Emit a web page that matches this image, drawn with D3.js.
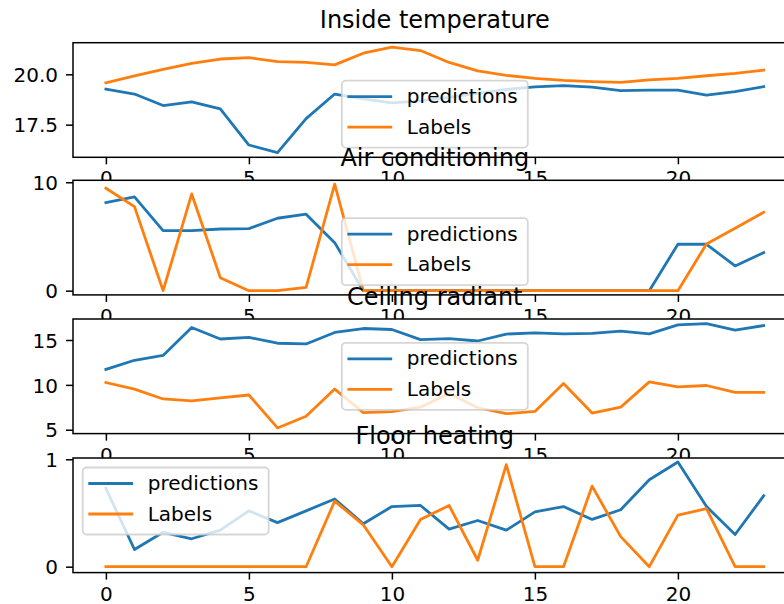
<!DOCTYPE html>
<html><head><meta charset="utf-8">
<script src="https://cdn.jsdelivr.net/npm/d3@7"></script>
<style>
body{margin:0;background:#fff}
svg{display:block;overflow:hidden}
text{font-family:"DejaVu Sans",sans-serif}
</style>
</head><body>
<svg id="c" width="784" height="604"></svg>
<script>
// ---------- data ----------
const hours = [0,1,2,3,4,5,6,7,8,9,10,11,12,13,14,15,16,17,18,19,20,21,22,23];
const xTicks = [0,5,10,15,20];
const seriesNames = ["predictions","Labels"];
const titles = ["Inside temperature","Air conditioning","Ceiling radiant","Floor heating"];

const tempPred  = [19.27,19.02,18.45,18.63,18.28,16.49,16.11,17.80,19.02,18.78,18.58,18.68,18.85,19.05,19.25,19.38,19.44,19.36,19.19,19.22,19.22,18.97,19.14,19.39];
const tempLabel = [19.58,19.92,20.25,20.54,20.76,20.83,20.63,20.59,20.47,21.05,21.35,21.18,20.59,20.17,19.95,19.80,19.70,19.64,19.60,19.72,19.80,19.93,20.05,20.21];

const acPred  = [8.12,8.65,5.54,5.54,5.69,5.72,6.68,7.05,4.43,0,0,0,0,0,0,0,0,0,0,0,4.28,4.28,2.28,3.51];
const acLabel = [9.45,7.75,0,8.92,1.2,0,0,0.3,9.82,0,0,0,0,0,0,0,0,0,0,0,0,4.31,5.75,7.23];

const ceilPred  = [11.72,12.74,13.28,16.39,15.11,15.29,14.64,14.56,15.84,16.28,16.17,15.04,15.15,14.89,15.66,15.80,15.69,15.73,15.99,15.69,16.68,16.82,16.09,16.61];
const ceilLabel = [10.26,9.53,8.43,8.21,8.54,8.87,5.2,6.50,9.53,6.90,7.01,7.52,9.05,7.45,6.79,7.04,10.15,6.86,7.52,10.33,9.78,9.93,9.16,9.16];

const floorPred  = [0.73,0.16,0.32,0.26,0.34,0.52,0.41,0.52,0.63,0.40,0.56,0.57,0.35,0.43,0.34,0.51,0.56,0.44,0.53,0.81,0.975,0.56,0.30,0.66];
const floorLabel = [0,0,0,0,0,0,0,0,0.61,0.39,0,0.44,0.57,0.06,0.95,0,0,0.75,0.28,0,0.48,0.54,0,0];

const yTicksTemp  = [17.5,20.0];
const yTicksAC    = [0,10];
const yTicksCeil  = [5,10,15];
const yTicksFloor = [0,1];

// ---------- layout ----------
const colors = ["#1f77b4","#ff7f0e"];
const X0 = 73, X1 = 796.6, AH = 114.6;
const panels = [
  {title:titles[0], pred:tempPred,  label:tempLabel,  ticks:yTicksTemp,  fmt:d3.format(".1f"), domain:[15.88,21.57], top:42.7,  legend:"lower center"},
  {title:titles[1], pred:acPred,    label:acLabel,    ticks:yTicksAC,    fmt:d3.format("d"),   domain:[-0.39,10.18], top:180.3, legend:"lower center"},
  {title:titles[2], pred:ceilPred,  label:ceilLabel,  ticks:yTicksCeil,  fmt:d3.format("d"),   domain:[4.57,17.34],  top:319,   legend:"center"},
  {title:titles[3], pred:floorPred, label:floorLabel, ticks:yTicksFloor, fmt:d3.format("d"),   domain:[-0.055,1.012],top:458,   legend:"upper left"}
];

const svg = d3.select("#c");
svg.append("rect").attr("width",784).attr("height",604).attr("fill","#fff");

const x = d3.scaleLinear().domain([-1.15,24.15]).range([X0,X1]);

panels.forEach((p,k)=>{
  const top = p.top, bottom = p.top + AH;
  const y = d3.scaleLinear().domain(p.domain).range([bottom, top]);
  const g = svg.append("g");
  g.append("rect").attr("x",X0).attr("y",top).attr("width",X1-X0).attr("height",AH).attr("fill","#fff");

  const cid = "clip"+k;
  g.append("clipPath").attr("id",cid).append("rect")
    .attr("x",X0).attr("y",top).attr("width",X1-X0).attr("height",AH);

  const line = d3.line().x((d,i)=>x(hours[i])).y(d=>y(d));
  [p.pred,p.label].forEach((s,j)=>{
    g.append("path").attr("d",line(s)).attr("fill","none")
      .attr("stroke",colors[j]).attr("stroke-width",2.8)
      .attr("stroke-linejoin","round").attr("stroke-linecap","square")
      .attr("clip-path",`url(#${cid})`);
  });

  // spines
  g.append("rect").attr("x",X0).attr("y",top).attr("width",X1-X0).attr("height",AH)
    .attr("fill","none").attr("stroke","#000").attr("stroke-width",1.5);

  const xa = g.append("g").attr("transform",`translate(0,${bottom})`)
    .call(d3.axisBottom(x).tickValues(xTicks).tickSize(7).tickPadding(7).tickFormat(d3.format("d")));
  const ya = g.append("g").attr("transform",`translate(${X0},0)`)
    .call(d3.axisLeft(y).tickValues(p.ticks).tickSize(7).tickPadding(8).tickFormat(p.fmt));
  [xa,ya].forEach(a=>{
    a.select(".domain").remove();
    a.attr("font-family",null).attr("font-size",null);
    a.selectAll("line").attr("stroke","#000").attr("stroke-width",1.5);
    a.selectAll("text").attr("fill","#000").style("font-size","20px").style("font-family","'DejaVu Sans',sans-serif");
  });
  ya.selectAll("text").attr("dy","0.36em");

  // legend
  const LW = 186, LH = 67;
  let lx, ly;
  if (p.legend==="lower center"){ lx=(X0+X1)/2-LW/2; ly=bottom-9.7-LH; }
  else if (p.legend==="center"){ lx=(X0+X1)/2-LW/2; ly=(top+bottom)/2-LH/2; }
  else { lx=X0+9.7; ly=top+9.5; }
  const lg = g.append("g").attr("transform",`translate(${lx},${ly})`);
  lg.append("rect").attr("width",LW).attr("height",LH).attr("rx",4)
    .attr("fill","#fff").attr("fill-opacity",0.8)
    .attr("stroke","#ccc").attr("stroke-opacity",0.8).attr("stroke-width",1.8);
  seriesNames.forEach((n,j)=>{
    const ry = 16 + j*30.5;
    lg.append("line").attr("x1",7).attr("x2",49).attr("y1",ry).attr("y2",ry)
      .attr("stroke",colors[j]).attr("stroke-width",2.8).attr("stroke-linecap","square");
    lg.append("text").attr("x",65).attr("y",ry+6.6).style("font-size","20px").attr("fill","#000").text(n);
  });

  // title
  g.append("text").attr("x",(X0+X1)/2).attr("y",top-14.4).attr("text-anchor","middle")
    .style("font-size","24px").attr("fill","#000").text(p.title);
});
</script>
</body></html>
